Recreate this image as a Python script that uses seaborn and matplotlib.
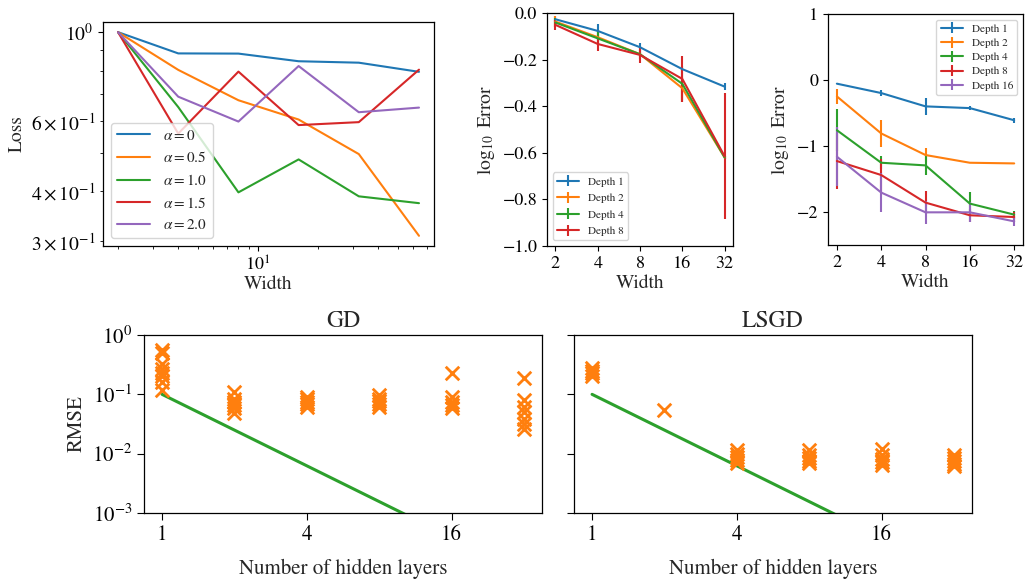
import matplotlib
matplotlib.use("Agg")
import numpy as np
import pandas as pd
import matplotlib.pyplot as plt
from matplotlib.ticker import NullLocator
import seaborn as sns

## DATA
# top left: loss vs width for several alpha
widths = [2, 4, 8, 16, 32, 64]
alpha_labels = [r"$\alpha = 0$", r"$\alpha = 0.5$", r"$\alpha = 1.0$", r"$\alpha = 1.5$", r"$\alpha = 2.0$"]
loss_a00 = [1.0, 0.885, 0.884, 0.846, 0.839, 0.796]
loss_a05 = [1.0, 0.805, 0.676, 0.605, 0.496, 0.310]
loss_a10 = [1.0, 0.650, 0.398, 0.481, 0.389, 0.374]
loss_a15 = [1.0, 0.558, 0.797, 0.586, 0.596, 0.806]
loss_a20 = [1.0, 0.690, 0.598, 0.823, 0.631, 0.648]

# top middle: log10 error vs width, depth 1..8
widths_b = [2, 4, 8, 16, 32]
mid_labels = ["Depth 1", "Depth 2", "Depth 4", "Depth 8"]
mid_d1 = [-0.027, -0.077, -0.147, -0.241, -0.316]
mid_d1_err = [0.012, 0.030, 0.018, 0.005, 0.014]
mid_d2 = [-0.037, -0.104, -0.177, -0.323, -0.620]
mid_d2_err = [0.022, 0.030, 0.010, 0.050, 0.005]
mid_d4 = [-0.041, -0.109, -0.177, -0.304, -0.620]
mid_d4_err = [0.020, 0.030, 0.020, 0.076, 0.005]
mid_d8 = [-0.051, -0.133, -0.180, -0.283, -0.615]
mid_d8_err = [0.020, 0.030, 0.033, 0.097, 0.270]

# top right: log10 error vs width, depth 1..16
right_labels = ["Depth 1", "Depth 2", "Depth 4", "Depth 8", "Depth 16"]
right_d1 = [-0.056, -0.198, -0.400, -0.426, -0.610]
right_d1_err = [0.010, 0.050, 0.130, 0.030, 0.040]
right_d2 = [-0.249, -0.810, -1.137, -1.254, -1.264]
right_d2_err = [0.110, 0.200, 0.110, 0.005, 0.005]
right_d4 = [-0.761, -1.254, -1.294, -1.873, -2.040]
right_d4_err = [0.320, 0.100, 0.150, 0.180, 0.060]
right_d8 = [-1.228, -1.440, -1.858, -2.050, -2.076]
right_d8_err = [0.430, 0.250, 0.170, 0.100, 0.070]
right_d16 = [-1.162, -1.706, -2.005, -2.005, -2.142]
right_d16_err = [0.450, 0.290, 0.170, 0.150, 0.070]

# bottom: RMSE vs number of hidden layers (several runs each)
layers = [1, 2, 4, 8, 16, 32]
ref_rmse = [1e-1, 2.5e-2, 6.25e-3, 1.56e-3, 3.9e-4, 9.8e-5]
gd_rmse = [
    [0.56, 0.49, 0.33, 0.27, 0.23, 0.20, 0.16, 0.12],
    [0.111, 0.085, 0.075, 0.066, 0.058, 0.048],
    [0.091, 0.082, 0.075, 0.068, 0.062],
    [0.097, 0.085, 0.078, 0.070, 0.062],
    [0.226, 0.091, 0.075, 0.066, 0.058],
    [0.186, 0.080, 0.062, 0.051, 0.039, 0.032, 0.026],
]
lsgd_rmse = [
    [0.28, 0.25, 0.23, 0.205],
    [0.054],
    [0.0115, 0.0098, 0.0088, 0.0078, 0.0069],
    [0.0117, 0.0096, 0.0085, 0.0076, 0.0069],
    [0.0120, 0.0096, 0.0082, 0.0073, 0.0065],
    [0.0096, 0.0085, 0.0075, 0.0068, 0.0062],
]

# %%
## STYLE
sns.set_style("ticks", {"axes.edgecolor": "black", "xtick.color": "black", "ytick.color": "black"})
plt.rcParams["font.family"] = ["STIXGeneral", "DejaVu Serif"]
plt.rcParams["mathtext.fontset"] = "stix"
plt.rcParams["axes.linewidth"] = 0.9
plt.rcParams["axes.unicode_minus"] = True

fig = plt.figure(figsize=(10.29, 5.8), dpi=100)

# %%
## TOP LEFT
ax1 = fig.add_axes([0.1001, 0.5759, 0.3217, 0.3862])
df_loss = pd.DataFrame({"Width": widths * 5,
                        "Loss": loss_a00 + loss_a05 + loss_a10 + loss_a15 + loss_a20,
                        "alpha": sum([[lab] * len(widths) for lab in alpha_labels], [])})
sns.lineplot(data=df_loss, x="Width", y="Loss", hue="alpha", palette="tab10", lw=1.5, ax=ax1)
ax1.set_xscale("log")
ax1.set_yscale("log")
ax1.set_xlabel("Width", fontsize=14, labelpad=1)
ax1.set_ylabel("Loss", fontsize=14)
ax1.tick_params(axis="x", which="both", labelsize=13)
ax1.tick_params(axis="y", which="both", labelsize=14)
ax1.legend(loc="lower left", fontsize=11, frameon=True, fancybox=True, handlelength=2.2)

# %%
## TOP MIDDLE / RIGHT
def err_panel(ax, means, errs, labels, ylim, yticks, loc, spacing):
    for i, (m, e, lab) in enumerate(zip(means, errs, labels)):
        ax.errorbar(widths_b, m, yerr=e, label=lab, color=sns.color_palette("tab10")[i],
                    lw=1.5, elinewidth=1.5)
    ax.set_xscale("log", base=2)
    ax.set_xticks(widths_b)
    ax.set_xticklabels([str(w) for w in widths_b])
    ax.xaxis.set_minor_locator(NullLocator())
    ax.set_ylim(*ylim)
    ax.set_yticks(yticks)
    ax.tick_params(labelsize=13)
    ax.set_xlabel("Width", fontsize=14, labelpad=2)
    ax.set_ylabel(r"$\log_{10}$ Error", fontsize=14)
    ax.legend(loc=loc, fontsize=8, frameon=True, handlelength=2.0, labelspacing=spacing)

ax2 = fig.add_axes([0.5316, 0.5759, 0.1808, 0.4017])
err_panel(ax2, [mid_d1, mid_d2, mid_d4, mid_d8], [mid_d1_err, mid_d2_err, mid_d4_err, mid_d8_err],
          mid_labels, (-1.0, 0.0), [-1.0, -0.8, -0.6, -0.4, -0.2, 0.0], "lower left", 0.6)

ax3 = fig.add_axes([0.8047, 0.5776, 0.1895, 0.3983])
err_panel(ax3, [right_d1, right_d2, right_d4, right_d8, right_d16],
          [right_d1_err, right_d2_err, right_d4_err, right_d8_err, right_d16_err],
          right_labels, (-2.5, 1.0), [-2, -1, 0, 1], "upper right", 0.4)

# %%
## BOTTOM
def rmse_panel(ax, runs, title, show_ylabel):
    df = pd.DataFrame({"layers": sum([[l] * len(r) for l, r in zip(layers, runs)], []),
                       "rmse": sum(runs, [])})
    sns.lineplot(x=layers, y=ref_rmse, color="C2", lw=2.2, ax=ax)
    sns.scatterplot(data=df, x="layers", y="rmse", marker="x", color="C1", s=95,
                    linewidth=2, ax=ax, zorder=3)
    ax.set_xscale("log", base=2)
    ax.set_yscale("log")
    ax.set_ylim(1e-3, 1)
    ax.set_xticks([1, 4, 16])
    ax.set_xticklabels(["1", "4", "16"])
    ax.set_yticks([1e-3, 1e-2, 1e-1, 1])
    ax.xaxis.set_minor_locator(NullLocator())
    ax.yaxis.set_minor_locator(NullLocator())
    ax.tick_params(labelsize=15, length=5)
    ax.set_xlabel("Number of hidden layers", fontsize=15, labelpad=10)
    ax.set_title(title, fontsize=17)
    if show_ylabel:
        ax.set_ylabel("RMSE", fontsize=15)
    else:
        ax.set_ylabel("")
        ax.set_yticklabels([])

ax4 = fig.add_axes([0.1399, 0.1155, 0.3868, 0.3069])
rmse_panel(ax4, gd_rmse, "GD", True)

ax5 = fig.add_axes([0.5578, 0.1155, 0.3868, 0.3069])
rmse_panel(ax5, lsgd_rmse, "LSGD", False)

fig.savefig("out.png", dpi=100)
